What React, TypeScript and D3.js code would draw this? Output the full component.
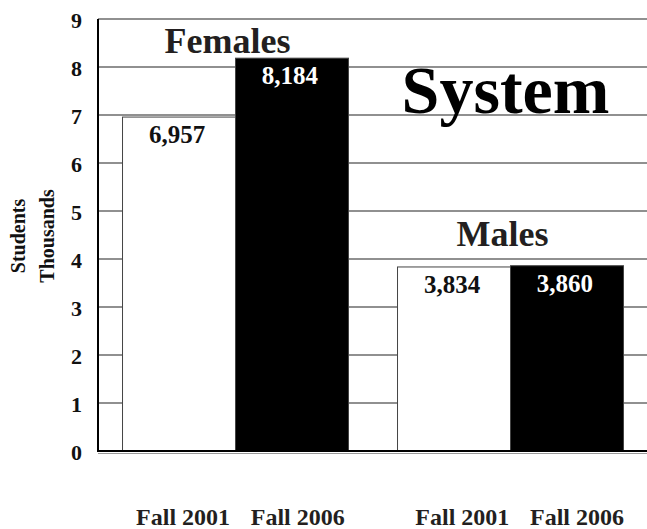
import React from "react";
import * as d3 from "d3";

const groups = ["Females", "Males"];
const periods = ["Fall 2001", "Fall 2006"];
const femaleValues = [6957, 8184];
const maleValues = [3834, 3860];
const yTicks = [0, 1, 2, 3, 4, 5, 6, 7, 8, 9];
const title = "System";
const yLabelLines = ["Students", "Thousands"];

const W = 647;
const H = 529;
const FONT = "'Liberation Serif', 'Times New Roman', serif";

export default function App() {
  const margin = { left: 98, right: -1, top: 19, bottom: 78 };
  const plotW = W - margin.left - margin.right;
  const y = d3.scaleLinear().domain([0, 9]).range([H - margin.bottom, margin.top]);
  const x0 = d3.scaleBand().domain(groups).range([margin.left, margin.left + plotW]).paddingInner(0).paddingOuter(0);
  const x1 = d3.scaleBand().domain(periods).range([0, x0.bandwidth()]).paddingOuter(0.217).paddingInner(0);
  const valuesByGroup: Record<string, number[]> = { Females: femaleValues, Males: maleValues };
  const fills = ["#ffffff", "#000000"];
  const textFills = ["#111", "#fff"];
  const groupLabelGap: Record<string, number> = { Females: 5, Males: 20 };
  const labelX = (cx: number) => 1.0154 * cx + 1.3;
  const fmt = d3.format(",");

  const bars: any[] = [];
  groups.forEach((g) => {
    valuesByGroup[g].forEach((v, i) => {
      const xv = (x0(g) as number) + (x1(periods[i]) as number);
      bars.push({ g, i, v, x: xv, w: x1.bandwidth(), y: y(v / 1000) });
    });
  });

  const groupCenter = (g: string) => (x0(g) as number) + x0.bandwidth() / 2;
  const groupTop = (g: string) => y(d3.max(valuesByGroup[g])! / 1000);

  return (
    <svg width={W} height={H} style={{ position: "absolute", left: 0, top: 0, background: "#fff" }} fontFamily={FONT}>
      {yTicks.map((t) => (
        <line key={"g" + t} x1={margin.left} x2={W} y1={y(t)} y2={y(t)} stroke="#222" strokeWidth={1.2} />
      ))}
      {bars.map((b, k) => (
        <rect key={"b" + k} x={b.x} y={b.y} width={b.w} height={y(0) - b.y} fill={fills[b.i]} stroke="#444" strokeWidth={1} />
      ))}
      <line x1={margin.left} x2={W} y1={y(0)} y2={y(0)} stroke="#000" strokeWidth={2} />
      <line x1={margin.left} x2={W} y1={y(0) + 2.5} y2={y(0) + 2.5} stroke="#999" strokeWidth={1} />
      <line x1={margin.left} x2={margin.left} y1={y(9)} y2={y(0) + 1} stroke="#000" strokeWidth={2} />
      {yTicks.map((t) => (
        <text key={"t" + t} x={82} y={y(t) + 9} textAnchor="end" fontSize={22} fontWeight="bold" fill="#111">
          {t}
        </text>
      ))}
      {bars.map((b, k) => (
        <text key={"v" + k} x={b.x + b.w / 2 - 2} y={b.y + 26} textAnchor="middle" fontSize={25} fontWeight="bold" fill={textFills[b.i]}>
          {fmt(b.v)}
        </text>
      ))}
      {groups.map((g) => (
        <text key={"gl" + g} x={groupCenter(g) - 8} y={groupTop(g) - groupLabelGap[g]} textAnchor="middle" fontSize={36} fontWeight="bold" fill="#231f20">
          {g}
        </text>
      ))}
      <text x={505.5} y={113} textAnchor="middle" fontSize={68} fontWeight="bold" fill="#000">
        {title}
      </text>
      <g transform={`translate(0, ${(y(0) + y(9)) / 2 + 1})`}>
        <text transform="rotate(-90)" x={0} y={25} textAnchor="middle" fontSize={20} fontWeight="bold" fill="#111">
          {yLabelLines[0]}
        </text>
        <text transform="rotate(-90)" x={0} y={54} textAnchor="middle" fontSize={20} fontWeight="bold" fill="#111">
          {yLabelLines[1]}
        </text>
      </g>
      {bars.map((b, k) => (
        <text key={"c" + k} x={labelX(b.x + b.w / 2)} y={525} textAnchor="middle" fontSize={24} fontWeight="bold" fill="#231f20">
          {periods[b.i]}
        </text>
      ))}
    </svg>
  );
}
